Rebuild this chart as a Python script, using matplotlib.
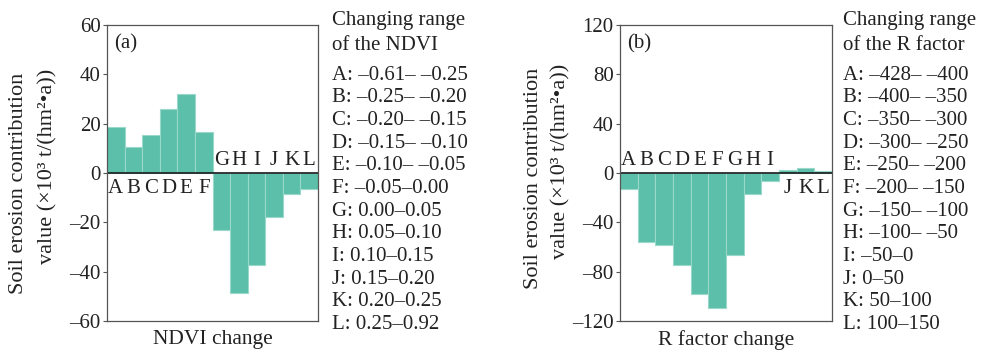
import matplotlib.pyplot as plt
import numpy as np

plt.rcParams['font.family'] = ['Liberation Serif', 'DejaVu Serif']

letters = list('ABCDEFGHIJKL')
ndvi_vals = [18.8, 10.4, 15.3, 26.0, 32.0, 16.8, -23.1, -48.5, -37.3, -17.8, -8.6, -6.5]
r_vals = [-13.2, -56.2, -58.6, -74.9, -98.1, -109.7, -66.8, -17.0, -6.5, 2.4, 4.3, 1.5]

ndvi_ranges = ['A: \u20130.61\u2013 \u20130.25', 'B: \u20130.25\u2013 \u20130.20', 'C: \u20130.20\u2013 \u20130.15',
               'D: \u20130.15\u2013 \u20130.10', 'E: \u20130.10\u2013 \u20130.05', 'F: \u20130.05\u20130.00',
               'G: 0.00\u20130.05', 'H: 0.05\u20130.10', 'I: 0.10\u20130.15', 'J: 0.15\u20130.20',
               'K: 0.20\u20130.25', 'L: 0.25\u20130.92']
r_ranges = ['A: \u2013428\u2013 \u2013400', 'B: \u2013400\u2013 \u2013350', 'C: \u2013350\u2013 \u2013300',
            'D: \u2013300\u2013 \u2013250', 'E: \u2013250\u2013 \u2013200', 'F: \u2013200\u2013 \u2013150',
            'G: \u2013150\u2013 \u2013100', 'H: \u2013100\u2013 \u201350', 'I: \u201350\u20130',
            'J: 0\u201350', 'K: 50\u2013100', 'L: 100\u2013150']

bar_color = '#5bbfaa'
edge_color = '#9ad8ca'
text_color = '#222222'
ylabel_lines = ['Soil erosion contribution', 'value (\u00d710\u00b3 t/(hm\u00b2\u2022a))']

fig = plt.figure(figsize=(9.85, 3.55), dpi=100)

panels = [
    dict(vals=ndvi_vals, lim=60, step=20, tag='(a)', xlabel='NDVI change',
         title=['Changing range', 'of the NDVI'], ranges=ndvi_ranges, left=107, right=318, textx=332,
         ylab_x=[19, 48], ylab_y=[183, 166]),
    dict(vals=r_vals, lim=120, step=40, tag='(b)', xlabel='R factor change',
         title=['Changing range', 'of the R factor'], ranges=r_ranges, left=620, right=832, textx=843,
         ylab_x=[533, 561], ylab_y=[178, 161]),
]

W, H = 985, 355
top, bottom = 25, 321
fs = 15
for p in panels:
    ax = fig.add_axes([p['left'] / W, 1 - bottom / H, (p['right'] - p['left']) / W, (bottom - top) / H])
    x = np.arange(len(letters))
    ax.bar(x, p['vals'], width=1.0, color=bar_color, edgecolor=edge_color, linewidth=0.8)
    ax.axhline(0, color='#1a1a1a', lw=1.2)
    ax.set_xlim(-0.5, len(letters) - 0.5)
    ax.set_ylim(-p['lim'], p['lim'])
    ticks = np.arange(-p['lim'], p['lim'] + 1, p['step'])
    ax.set_yticks(ticks)
    ax.set_yticklabels([str(v).replace('-', '\u2013') for v in ticks])
    ax.set_xticks([])
    ax.tick_params(axis='y', direction='out', length=3, width=0.8, colors='#555555',
                   labelcolor=text_color, labelsize=fs, pad=1.5)
    for s in ax.spines.values():
        s.set_color('#555555')
        s.set_linewidth(0.9)
    for xi, v, l in zip(x, p['vals'], letters):
        if v >= 0:
            ax.annotate(l, (xi, 0), xytext=(0, -4.5), textcoords='offset points',
                        ha='center', va='top', fontsize=fs, color=text_color)
        else:
            ax.annotate(l, (xi, 0), xytext=(0, 2.5), textcoords='offset points',
                        ha='center', va='bottom', fontsize=fs, color=text_color)
    ax.text(0.035, 0.935, p['tag'], transform=ax.transAxes, ha='left', va='center',
            fontsize=fs, color=text_color)
    ax.set_xlabel(p['xlabel'], fontsize=fs + 0.5, color=text_color)
    ax.xaxis.set_label_coords(0.5, -0.03)

    for lx, ly, t in zip(p['ylab_x'], p['ylab_y'], ylabel_lines):
        fig.text(lx / W, 1 - ly / H, t, rotation=90, ha='center', va='center',
                 fontsize=fs + 1, color=text_color)

    for i, t in enumerate(p['title']):
        fig.text(p['textx'] / W, 1 - (20 + i * 25.5) / H, t, ha='left', va='center',
                 fontsize=fs, color=text_color)
    for i, t in enumerate(p['ranges']):
        y = 75 + i * 22.7
        fig.text(p['textx'] / W, 1 - y / H, t, ha='left', va='center', fontsize=fs, color=text_color)

fig.savefig('out.png', dpi=100)
